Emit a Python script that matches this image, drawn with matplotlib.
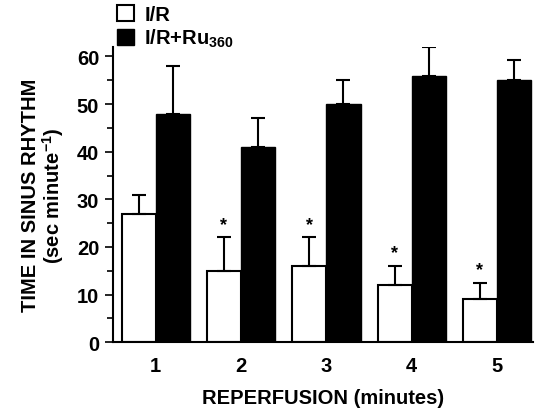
import matplotlib
matplotlib.use("Agg")
import matplotlib.pyplot as plt
import numpy as np
from matplotlib.ticker import MultipleLocator

plt.rcParams['font.family'] = ['Liberation Sans', 'DejaVu Sans']
plt.rcParams['font.weight'] = 'bold'
plt.rcParams['mathtext.fontset'] = 'custom'
plt.rcParams['mathtext.rm'] = 'Liberation Sans:bold'
plt.rcParams['mathtext.bf'] = 'Liberation Sans:bold'

minutes = ["1", "2", "3", "4", "5"]
ir_mean = [27, 15, 16, 12, 9]
ir_err = [4, 7, 6, 4, 3.5]
ru_mean = [48, 41, 50, 56, 55]
ru_err = [10, 6, 5, 6, 4.3]
significant = [False, True, True, True, True]

x = np.arange(1, len(minutes) + 1)
w = 0.4

fig = plt.figure(figsize=(5.41, 4.10), dpi=100)
ax = fig.add_axes([0.209, 0.163, 0.776, 0.72])

err_kw = dict(ecolor='black', elinewidth=1.5, capsize=5, capthick=1.5)
b1 = ax.bar(x - w / 2, ir_mean, w, color='white', edgecolor='black', linewidth=1.5,
            yerr=[np.zeros(len(ir_err)), ir_err], error_kw=err_kw, label='I/R', zorder=2)
b2 = ax.bar(x + w / 2, ru_mean, w, color='black', edgecolor='black', linewidth=1.0,
            yerr=[np.zeros(len(ru_err)), ru_err], error_kw=err_kw,
            label=r'I/R+Ru$_{360}$', zorder=2)

for xi, m, e, s in zip(x, ir_mean, ir_err, significant):
    if s:
        ax.text(xi - w / 2, m + e + 1.0, '*', ha='center', va='bottom', fontsize=13,
                fontweight='bold')

ax.set_xlim(0.5, 5.42)
ax.set_ylim(0, 62)
ax.set_xticks(x)
ax.set_xticklabels(minutes)
ax.yaxis.set_major_locator(MultipleLocator(10))
ax.yaxis.set_minor_locator(MultipleLocator(5))
ax.tick_params(axis='x', length=0, labelsize=14.5, pad=10)
ax.tick_params(axis='y', which='major', length=6, width=1.2, labelsize=14.5, direction='out', pad=4)
ax.tick_params(axis='y', which='minor', length=4, width=1.2, direction='out')
for side in ['top', 'right']:
    ax.spines[side].set_visible(False)
for side in ['left', 'bottom']:
    ax.spines[side].set_linewidth(1.5)

ax.set_xlabel('REPERFUSION (minutes)', fontsize=14.5, fontweight='bold', labelpad=9)
ax.set_ylabel('TIME IN SINUS RHYTHM\n(sec minute$^{-1}$)', fontsize=14.5,
              fontweight='bold', labelpad=8, linespacing=1.0)

ax.legend(handles=[b1, b2], loc='lower left', bbox_to_anchor=(0.005, 0.985),
          frameon=False, fontsize=14.5, handlelength=0.85, handleheight=0.85,
          handletextpad=0.5, labelspacing=0.15, borderaxespad=0, borderpad=0.1)

fig.savefig('out.png', dpi=100)
